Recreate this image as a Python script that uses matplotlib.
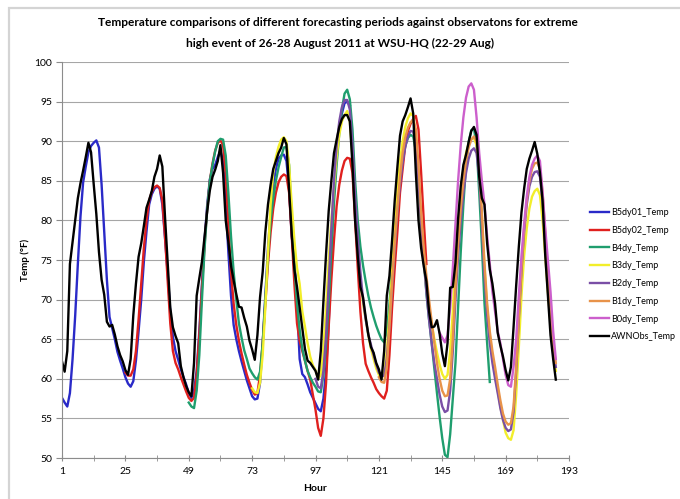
import matplotlib
matplotlib.use("Agg")
import matplotlib.pyplot as plt
from matplotlib.patches import Rectangle

# ---- data (hourly values) ----
b5dy01_start = 1
b5dy01 = [57.6, 57.0, 56.5, 58.2, 62.5, 68.0, 74.5, 80.5, 84.8, 86.8, 88.6, 89.4, 89.8, 90.1, 89.2,
          84.5, 78.5, 72.5, 67.8, 66.4, 65.0, 63.4, 62.3, 61.3, 60.2, 59.4, 59.0, 59.7, 62.3, 66.0,
          70.0, 74.8, 78.6, 82.0, 83.3, 84.0, 84.3, 84.0, 82.0, 77.8, 73.4, 68.5, 65.3, 63.5, 62.4,
          61.2, 60.2, 59.3, 58.2, 57.6, 58.5, 61.0, 66.0, 72.0, 77.5, 82.0, 85.2, 86.5, 87.0, 88.0,
          88.8, 87.5, 82.0, 76.0, 70.5, 66.8, 65.0, 63.5, 62.2, 61.0, 59.8, 58.8, 57.8, 57.4, 57.5,
          59.5, 64.5, 70.5, 76.5, 81.0, 84.5, 86.5, 87.8, 88.2, 88.3, 87.5, 84.0, 78.0, 75.0, 69.5,
          62.5, 60.6, 60.2, 59.3, 58.3, 57.6, 56.9, 56.2, 55.9, 57.5, 61.0, 67.0, 76.0, 83.5, 88.5,
          91.5, 93.5, 94.8, 95.0, 94.5]

b5dy02_start = 25
b5dy02 = [60.8, 60.4, 60.4, 61.2, 63.5, 67.5, 72.0, 76.5, 80.0, 82.5, 83.6, 84.2, 84.4, 84.1, 82.5,
          78.0, 72.5, 67.0, 63.5, 62.0, 61.2, 60.2, 59.3, 58.4, 57.6, 57.2, 57.6, 60.5, 65.5, 71.5,
          77.0, 81.5, 85.0, 87.2, 88.8, 89.8, 90.1, 89.5, 85.8, 79.5, 73.5, 69.5, 66.8, 64.8, 63.2,
          61.8, 60.5, 59.5, 58.6, 58.0, 58.2, 60.5, 64.5, 69.5, 74.5, 78.5, 81.5, 83.5, 84.8, 85.5,
          85.8, 85.6, 83.5, 78.0, 72.0, 67.0, 64.8, 63.5, 62.3, 61.0, 59.9, 58.0, 56.1, 53.8, 52.8,
          55.0, 59.5, 66.6, 72.5, 77.5, 81.8, 84.5, 86.3, 87.5, 87.9, 87.8, 86.0, 80.0, 74.0, 68.5,
          64.5, 61.9, 61.0, 60.2, 59.5, 58.7, 58.2, 57.8, 57.5, 58.5, 63.0, 69.0, 74.0, 78.5, 83.5,
          86.5, 89.5, 91.3, 92.2, 92.8, 93.2, 91.5, 86.0, 80.0, 74.5]

b4dy_start = 49
b4dy = [57.0, 56.5, 56.3, 58.5, 63.0, 70.0, 76.5, 81.5, 85.0, 87.0, 88.7, 90.0, 90.3, 90.2, 88.2,
        83.5, 78.0, 73.5, 70.0, 67.0, 65.2, 63.6, 62.5, 61.3, 60.7, 60.2, 59.9, 60.9, 64.5, 70.0,
        75.5, 80.0, 82.8, 85.0, 86.7, 88.0, 89.2, 89.3, 87.0, 80.5, 74.5, 69.5, 66.2, 63.8, 62.3,
        61.0, 60.2, 59.5, 59.0, 58.4, 58.3, 60.5, 64.5, 69.5, 76.5, 82.2, 87.0, 91.0, 94.0, 96.0,
        96.5, 95.3, 91.5, 85.0, 80.0, 76.7, 74.3, 72.3, 70.5, 69.0, 67.8, 66.7, 65.8, 65.0, 64.6,
        66.0, 69.5, 74.0, 78.0, 82.5, 85.5, 87.8, 89.4, 90.4, 90.8, 90.6, 88.8, 84.5, 79.2, 75.0,
        70.8, 67.5, 64.5, 61.3, 58.2, 55.2, 52.5, 50.4, 50.1, 53.0, 57.5, 62.0, 69.0, 76.0, 82.0,
        87.0, 89.9, 91.4, 91.6, 89.5, 83.5, 77.0, 69.5, 64.5, 59.6]

b3dy_start = 73
b3dy = [58.8, 58.3, 58.2, 59.5, 63.0, 69.0, 76.0, 82.0, 86.0, 88.0, 89.3, 90.2, 90.5, 90.0, 87.0,
        82.0, 77.5, 74.0, 72.0, 68.5, 66.6, 64.5, 62.8, 61.7, 61.1, 60.0, 60.5, 64.0, 69.0, 75.0,
        80.0, 84.2, 88.0, 90.8, 92.5, 93.3, 93.8, 92.5, 88.0, 82.0, 76.5, 72.5, 69.5, 67.5, 65.5,
        63.8, 62.5, 61.3, 60.5, 60.0, 60.8, 63.5, 68.0, 73.5, 78.5, 83.5, 87.5, 90.0, 91.8, 92.9,
        93.5, 93.2, 90.8, 85.5, 79.5, 75.0, 71.5, 69.0, 67.0, 65.0, 63.3, 61.8, 60.6, 60.0, 60.5,
        63.5, 68.5, 74.5, 79.5, 83.5, 86.5, 88.5, 89.7, 90.3, 90.4, 89.5, 86.0, 80.5, 74.0, 69.0,
        65.5, 62.8, 60.5, 58.5, 56.5, 54.8, 53.2, 52.5, 52.3, 53.5, 58.0, 64.0, 70.5, 75.5, 79.0,
        81.5, 83.0, 83.7, 84.0, 83.2, 80.0, 75.5, 71.0, 67.0, 63.5, 61.0]

b2dy_start = 97
b2dy = [60.0, 59.0, 58.8, 61.0, 65.5, 72.0, 79.0, 85.0, 89.5, 92.5, 94.3, 95.2, 95.2, 94.0, 89.5,
        83.0, 78.0, 73.5, 70.0, 67.5, 65.6, 64.3, 63.0, 61.8, 60.8, 60.3, 60.4, 62.5, 66.5, 71.5,
        76.5, 81.0, 84.5, 87.3, 89.3, 90.6, 91.3, 91.2, 89.5, 85.0, 79.5, 75.0, 71.0, 67.5, 64.5,
        62.0, 60.0, 58.0, 56.5, 55.8, 56.0, 58.5, 63.5, 70.0, 75.5, 80.0, 83.5, 86.0, 87.8, 88.8,
        89.1, 88.5, 85.5, 79.5, 73.0, 68.0, 64.5, 62.0, 60.0, 58.2, 56.3, 54.8, 53.8, 53.4, 53.6,
        55.8, 61.0, 67.5, 73.5, 78.5, 82.0, 84.3, 85.5, 86.1, 86.2, 85.5, 82.3, 77.0, 72.0, 67.5,
        64.0, 61.5]

b1dy_start = 121
b1dy = [60.2, 59.6, 59.5, 61.5, 66.5, 72.0, 77.0, 81.5, 85.5, 88.5, 90.5, 91.7, 92.4, 92.7, 91.5,
        87.0, 81.0, 76.5, 73.0, 70.0, 67.2, 64.5, 62.0, 60.0, 58.5, 57.8, 57.9, 60.0, 65.0, 71.5,
        77.0, 81.5, 85.0, 87.5, 89.2, 90.2, 90.6, 90.0, 87.0, 81.0, 74.5, 69.5, 66.0, 63.5, 61.5,
        59.3, 57.3, 55.6, 54.6, 54.2, 54.4, 56.5, 61.5, 68.0, 74.0, 79.0, 82.5, 85.0, 86.5, 87.2,
        87.3, 86.5, 83.5, 78.5, 73.0, 68.5, 64.5, 62.0]

b0dy_start = 144
b0dy = [65.8, 65.2, 64.6, 65.5, 69.0, 74.0, 79.5, 85.0, 89.5, 93.0, 95.5, 96.9, 97.3, 96.5, 93.0,
        88.5, 85.0, 82.0, 78.0, 74.5, 71.0, 68.5, 66.0, 64.5, 62.5, 60.5, 59.2, 59.0, 61.5, 65.0,
        70.5, 75.5, 79.5, 83.0, 85.5, 87.0, 87.8, 88.2, 87.5, 83.5, 79.0, 75.0, 71.0, 66.0, 62.5]

obs_start = 1
awnobs = [62.2, 60.9, 63.5, 74.5, 77.3, 80.0, 82.8, 84.7, 86.3, 88.0, 89.8, 88.6, 84.6, 80.8, 76.0,
          72.5, 70.6, 67.2, 66.6, 66.8, 65.6, 64.1, 63.0, 62.2, 61.1, 60.5, 62.5, 68.0, 72.0, 75.4,
          77.1, 79.3, 81.6, 82.6, 83.7, 85.5, 86.5, 88.2, 86.8, 80.5, 74.8, 69.0, 66.5, 65.4, 64.5,
          61.6, 60.2, 59.1, 58.3, 57.8, 62.0, 70.5, 72.7, 74.8, 78.0, 81.2, 83.8, 85.5, 86.4, 87.5,
          89.5, 86.0, 80.0, 77.3, 74.3, 72.4, 70.7, 69.1, 69.0, 67.7, 66.6, 64.8, 63.7, 62.4, 65.5,
          70.3, 73.5, 78.5, 82.0, 84.5, 86.5, 87.5, 88.5, 89.2, 90.4, 89.6, 84.0, 78.3, 73.8, 71.6,
          69.0, 66.5, 63.8, 62.3, 62.0, 61.5, 61.0, 59.9, 63.5, 69.8, 75.8, 81.2, 85.0, 88.5, 90.2,
          91.8, 92.8, 93.3, 93.3, 92.5, 87.0, 80.0, 75.5, 71.6, 70.3, 67.8, 65.6, 64.0, 63.3, 62.0,
          61.2, 59.9, 63.5, 70.5, 73.0, 77.5, 82.5, 86.7, 90.7, 92.5, 93.3, 94.3, 95.4, 93.5, 86.0,
          80.0, 76.5, 74.2, 72.3, 68.5, 66.5, 66.6, 67.4, 65.7, 63.2, 61.6, 64.5, 71.5, 71.6, 74.6,
          80.2, 84.3, 87.0, 88.3, 89.9, 91.3, 91.8, 90.8, 85.5, 82.8, 82.0, 77.1, 73.8, 72.0, 69.5,
          65.8, 64.2, 62.8, 61.1, 59.8, 61.5, 66.5, 71.8, 76.7, 81.0, 84.0, 86.5, 87.8, 88.8, 89.9,
          88.4, 86.0, 82.5, 75.6, 70.5, 65.5, 62.5, 59.9]

series_names = ["B5dy01_Temp", "B5dy02_Temp", "B4dy_Temp", "B3dy_Temp",
                "B2dy_Temp", "B1dy_Temp", "B0dy_Temp", "AWNObs_Temp"]
series_colors = ["#2a2ac8", "#e0201e", "#1f9e6e", "#f2ee2a",
                 "#7a4fa6", "#e8934a", "#cc5fcc", "#000000"]
series_data = [(b5dy01_start, b5dy01), (b5dy02_start, b5dy02), (b4dy_start, b4dy),
               (b3dy_start, b3dy), (b2dy_start, b2dy), (b1dy_start, b1dy),
               (b0dy_start, b0dy), (obs_start, awnobs)]

x_ticks = [1, 25, 49, 73, 97, 121, 145, 169, 193]
y_ticks = [50, 55, 60, 65, 70, 75, 80, 85, 90, 95, 100]

FONT = ["Lato", "DejaVu Sans"]
plt.rcParams["font.family"] = FONT

W, H = 680, 499
fig = plt.figure(figsize=(W / 100, H / 100), dpi=100)
fig.patch.set_facecolor("white")

# chart-area border (Excel style)
fig.patches.append(Rectangle((9 / W, -0.05), 1.1, 1 - 8 / H + 0.05, transform=fig.transFigure,
                             fill=False, edgecolor="#d4d4d4", linewidth=1.6))

ax = fig.add_axes([62 / W, 1 - 458 / H, (569 - 62) / W, (458 - 62) / H])

for (start, vals), name, col in zip(series_data, series_names, series_colors):
    hrs = list(range(start, start + len(vals)))
    ax.plot(hrs, vals, color=col, lw=1.7, label=name, solid_joinstyle="round")

ax.set_xlim(1, 193)
ax.set_ylim(50, 100)
ax.set_xticks(x_ticks)
ax.set_xticks(list(range(13, 193, 24)), minor=True)
ax.set_yticks(y_ticks)
ax.grid(axis="y", color="#a6a6a6", lw=0.8)
ax.set_axisbelow(True)
for s in ["top", "right"]:
    ax.spines[s].set_visible(False)
for s in ["left", "bottom"]:
    ax.spines[s].set_color("#8c8c8c")
    ax.spines[s].set_linewidth(0.8)
ax.tick_params(axis="x", which="both", direction="inout", length=5, color="#8c8c8c",
               labelsize=7.5, pad=4)
ax.tick_params(axis="y", direction="out", length=4, color="#8c8c8c", labelsize=7.5, pad=3)

ax.set_xlabel("Hour", fontsize=7.5, fontweight="bold", labelpad=6)
ax.set_ylabel("Temp (\u00b0F)", fontsize=7, fontweight="bold")
ax.yaxis.set_label_coords((30 - 62) / (569 - 62), 0.5)

fig.text(338 / W, 1 - 22 / H,
         "Temperature comparisons of different forecasting periods against observatons for extreme",
         ha="center", va="center", fontsize=8.6, fontweight="bold")
fig.text(340 / W, 1 - 43 / H, "high event of 26-28 August 2011 at WSU-HQ (22-29 Aug)",
         ha="center", va="center", fontsize=8.6, fontweight="bold")

fig.legend(loc="upper left", bbox_to_anchor=(590 / W, 1 - 208 / H), frameon=False,
           fontsize=6.5, handlelength=2.1, handletextpad=0.2, labelspacing=0.97,
           borderaxespad=0, borderpad=0)

fig.savefig("out.png", dpi=100)
